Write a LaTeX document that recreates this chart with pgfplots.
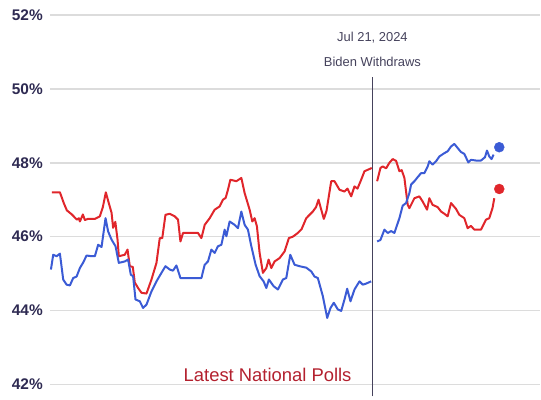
\documentclass[border=0pt]{standalone}
\usepackage{pgfplots}
\pgfplotsset{compat=1.18}
\usepackage{fontspec}
\setmainfont{Liberation Sans}

\definecolor{trumpred}{HTML}{E0262B}
\definecolor{harrisblue}{HTML}{3B5BD5}
\definecolor{gridc}{HTML}{DCDCDC}
\definecolor{labelc}{HTML}{2E2A52}
\definecolor{notec}{HTML}{45425C}
\definecolor{titlec}{HTML}{B3202E}

\begin{document}
\begin{tikzpicture}
\begin{axis}[
    scale only axis,
    width=491bp, height=400bp,
    xmin=50, xmax=541,
    ymin=41.595, ymax=52.405,
    clip=false,
    axis line style={draw=none},
    xtick=\empty,
    ytick={42,44,46,48,50,52},
    yticklabels={42\%,44\%,46\%,48\%,50\%,52\%},
    ytick style={draw=none},
    yticklabel style={font=\bfseries\fontsize{15.5}{15.5}\selectfont, text=labelc, inner sep=0pt, xshift=-7bp},
    ymajorgrids,
    grid style={gridc, line width=1.6bp},
]
% keep the left margin of the picture
\path (axis cs:0,41.595) -- (axis cs:0,52.405);

% Biden withdraws marker
\addplot[notec, line width=1.3bp] coordinates {(373,41.676) (373,50.324)};
\node[text=notec, font=\fontsize{13}{13}\selectfont] at (axis cs:373,51.39) {Jul 21, 2024};
\node[text=notec, font=\fontsize{13}{13}\selectfont] at (axis cs:373,50.72) {Biden Withdraws};
\node[text=titlec, font=\fontsize{18.5}{18.5}\selectfont] at (axis cs:268,42.27) {Latest National Polls};

% Trump (red), before withdrawal
\addplot[trumpred, line width=2bp, line join=round] coordinates {
(52,47.2) (60,47.2) (64,46.9) (67,46.71) (72,46.6) (77,46.46) (79,46.5) (80,46.41)
(83,46.6) (85,46.45) (88,46.48) (95,46.48) (100,46.55) (103,46.8) (106,47.2) (108,47.0)
(111.7,46.65) (113.3,46.24) (115.5,46.4) (117.7,45.92) (119,45.47) (125,45.51) (127.7,45.65)
(130,45.2) (133,45.18) (135,44.76) (138.3,44.61) (141.7,44.48) (146.7,44.46) (151.7,44.84)
(156.7,45.29) (160,45.96) (162.5,45.96) (165.7,46.59) (170,46.62) (175,46.55) (178.3,46.46)
(180.7,45.87) (183.3,46.1) (198.3,46.1) (201.7,45.96) (205,46.32) (210,46.5) (215,46.73)
(220,46.82) (223.3,47.0) (226,47.05) (228.3,47.27) (230.7,47.54) (236.7,47.5) (241.7,47.59)
(245,47.18) (250,46.73) (252.7,46.41) (255,46.5) (257.3,46.28) (260,45.56) (263.3,45.02)
(266.7,45.15) (269,45.38) (271.7,45.15) (275,45.33) (280,45.42) (285,45.6) (289.3,45.96)
(293.3,46.0) (298.3,46.1) (302,46.2) (306.7,46.5) (310,46.59) (313.3,46.68) (316.5,46.8)
(319,47.0) (321,46.8) (324.3,46.48) (327,46.7) (331.7,47.5) (335,47.5) (340,47.27)
(345,47.22) (348,47.3) (351.7,47.09) (355,47.36) (358,47.3) (361.7,47.54) (365,47.77)
(370,47.83) (372.3,47.86)
};
% Trump (red), after withdrawal
\addplot[trumpred, line width=2bp, line join=round] coordinates {
(377.7,47.5) (381,47.86) (383.3,47.9) (386.7,47.85) (390,48.0) (393.3,48.1) (396.7,48.05)
(400,47.77) (402.3,47.8) (405,47.59) (408.3,46.86) (410,46.77) (415,47.04) (420,47.09)
(423.3,46.95) (427.7,46.73) (430,47.04) (433.3,46.86) (438.3,46.8) (441.7,46.68) (445,46.62)
(448.3,46.55) (451.7,46.91) (456.7,46.75) (460,46.59) (465,46.5) (468.3,46.23) (471.7,46.29)
(475,46.19) (481.7,46.19) (486.7,46.46) (490,46.5) (493.3,46.78) (495,47.04)
};
% Democrat (blue), Biden
\addplot[harrisblue, line width=2bp, line join=round] coordinates {
(51,45.11) (53.3,45.51) (56.7,45.47) (60,45.54) (63.3,44.84) (66.7,44.7) (70,44.68)
(73.3,44.88) (76.7,44.92) (80,45.15) (83.3,45.3) (86.7,45.49) (91.7,45.47) (95,45.47)
(98.3,45.78) (101.7,45.72) (105.7,46.5) (108.3,46.14) (111.7,45.92) (115.7,45.74)
(119,45.29) (125,45.33) (128.3,45.38) (131,44.97) (133.3,44.93) (135.7,44.3) (140,44.25)
(143.3,44.07) (146.7,44.16) (151.7,44.52) (156.7,44.79) (161.7,45.02) (165.7,45.2)
(170,45.11) (173.3,45.08) (176.7,45.22) (180.7,44.88) (201.7,44.88) (205,45.24)
(208.3,45.33) (211.7,45.65) (215,45.56) (218.3,45.74) (221.7,45.78) (225,46.19)
(226.7,46.01) (230,46.41) (235,46.32) (238.3,46.23) (241.7,46.68) (245,46.32)
(248.3,46.19) (251.7,45.74) (256,45.24) (260,44.93) (264,44.79) (266.7,44.61)
(269.3,44.84) (274,44.66) (278.3,44.57) (283.3,44.84) (286.7,44.88) (290.7,45.51)
(295,45.24) (300,45.2) (306.7,45.16) (311.7,45.06) (315,44.92) (318.3,44.88)
(323.3,44.39) (327.7,43.8) (331,44.07) (334.3,44.21) (338.3,44.03) (341.7,43.99)
(345,44.3) (347.7,44.59) (351,44.25) (355,44.57) (360,44.79) (363.3,44.7) (366.7,44.73)
(371.7,44.79)
};
% Democrat (blue), Harris
\addplot[harrisblue, line width=2bp, line join=round] coordinates {
(377.7,45.87) (381,45.91) (385,46.19) (388.3,46.1) (391.7,46.15) (395,46.1) (400,46.5)
(403.3,46.84) (406.7,46.91) (410,47.18) (411.7,47.41) (415,47.5) (418.3,47.61)
(421.7,47.72) (425,47.72) (428.3,47.9) (430,48.04) (433.3,47.95) (436.7,48.04)
(440,48.17) (445,48.26) (448.3,48.31) (451.7,48.44) (455,48.51) (458.3,48.4)
(461.7,48.29) (465,48.24) (469,48.01) (471.7,48.08) (476.7,48.06) (481.7,48.06)
(485.7,48.15) (487.7,48.33) (490,48.17) (492.3,48.1) (494.3,48.22)
};
% end dots
\addplot[only marks, mark=*, mark size=5bp, harrisblue] coordinates {(500,48.42)};
\addplot[only marks, mark=*, mark size=5bp, trumpred] coordinates {(500,47.29)};
\end{axis}
\end{tikzpicture}
\end{document}
